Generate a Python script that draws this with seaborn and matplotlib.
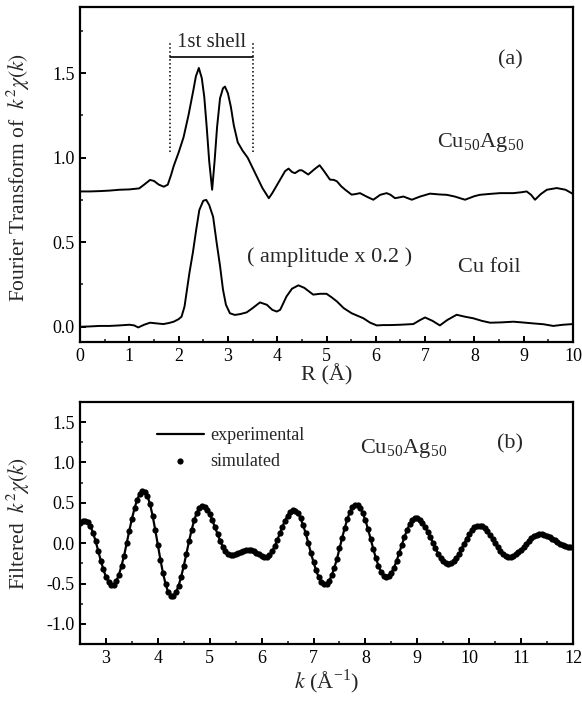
import numpy as np
import pandas as pd
import matplotlib
matplotlib.use("Agg")
import matplotlib.pyplot as plt
from matplotlib.ticker import MultipleLocator, FormatStrFormatter
import seaborn as sns

# ---------------- data: panel (a) ----------------
r_cuag = [0.0, 0.2, 0.4, 0.6, 0.8, 1.0, 1.1, 1.2, 1.3, 1.42, 1.5, 1.6, 1.7, 1.78, 1.85, 1.9,
          2.0, 2.1, 2.2, 2.3, 2.35, 2.41, 2.47, 2.52, 2.57, 2.62, 2.68, 2.73, 2.78, 2.84, 2.9,
          2.94, 3.0, 3.06, 3.12, 3.2, 3.3, 3.4, 3.5, 3.6, 3.7, 3.83, 3.9, 4.0, 4.1, 4.16, 4.23,
          4.3, 4.36, 4.45, 4.5, 4.63, 4.75, 4.86, 4.95, 5.07, 5.15, 5.21, 5.3, 5.38, 5.51, 5.6,
          5.68, 5.81, 5.95, 6.09, 6.22, 6.3, 6.39, 6.48, 6.56, 6.73, 6.9, 7.1, 7.3, 7.44, 7.6,
          7.81, 8.0, 8.11, 8.3, 8.52, 8.79, 8.95, 9.06, 9.15, 9.23, 9.35, 9.47, 9.67, 9.85, 10.0]
ft_cuag = [0.800, 0.800, 0.802, 0.805, 0.810, 0.812, 0.815, 0.818, 0.840, 0.868, 0.862, 0.840,
           0.828, 0.840, 0.900, 0.950, 1.03, 1.12, 1.25, 1.40, 1.48, 1.53, 1.47, 1.36, 1.18,
           0.98, 0.81, 0.98, 1.18, 1.35, 1.41, 1.42, 1.38, 1.30, 1.19, 1.09, 1.04, 1.00, 0.94,
           0.88, 0.82, 0.76, 0.79, 0.84, 0.89, 0.92, 0.935, 0.915, 0.908, 0.925, 0.925, 0.90,
           0.93, 0.955, 0.92, 0.87, 0.868, 0.86, 0.83, 0.81, 0.781, 0.785, 0.79, 0.77, 0.751,
           0.78, 0.79, 0.78, 0.76, 0.765, 0.77, 0.751, 0.77, 0.787, 0.782, 0.78, 0.77, 0.751,
           0.772, 0.78, 0.785, 0.79, 0.79, 0.795, 0.80, 0.78, 0.751, 0.785, 0.81, 0.82, 0.81,
           0.785]

r_cu = [0.0, 0.2, 0.4, 0.6, 0.8, 1.0, 1.1, 1.18, 1.3, 1.42, 1.55, 1.69, 1.8, 1.9, 2.0, 2.06,
        2.12, 2.16, 2.22, 2.29, 2.36, 2.42, 2.5, 2.56, 2.62, 2.7, 2.77, 2.84, 2.9, 2.96, 3.04,
        3.14, 3.25, 3.38, 3.5, 3.65, 3.79, 3.9, 3.99, 4.06, 4.19, 4.3, 4.43, 4.55, 4.73, 4.87,
        5.0, 5.1, 5.21, 5.35, 5.51, 5.63, 5.75, 5.88, 6.02, 6.15, 6.29, 6.5, 6.76, 6.9, 7.0,
        7.15, 7.3, 7.45, 7.64, 7.8, 7.98, 8.15, 8.32, 8.55, 8.79, 9.0, 9.19, 9.4, 9.6, 9.8, 10.0]
ft_cu = [0.000, 0.002, 0.005, 0.005, 0.008, 0.012, 0.008, -0.004, 0.012, 0.024, 0.020, 0.016,
         0.022, 0.030, 0.045, 0.06, 0.12, 0.20, 0.32, 0.44, 0.58, 0.69, 0.745, 0.75, 0.72,
         0.65, 0.50, 0.36, 0.22, 0.13, 0.08, 0.07, 0.075, 0.085, 0.11, 0.144, 0.13, 0.10, 0.09,
         0.10, 0.18, 0.225, 0.245, 0.23, 0.19, 0.195, 0.195, 0.175, 0.15, 0.11, 0.08, 0.065,
         0.05, 0.025, 0.008, 0.01, 0.01, 0.012, 0.016, 0.04, 0.055, 0.035, 0.008, 0.04, 0.071,
         0.06, 0.05, 0.035, 0.024, 0.026, 0.03, 0.025, 0.02, 0.015, 0.005, 0.012, 0.016]

# ---------------- data: panel (b) ----------------
k_vals = np.round(np.arange(2.5, 12.0001, 0.05), 2)
chi_filtered = [
    0.25, 0.27, 0.28, 0.262, 0.21, 0.13, 0.027, -0.096, -0.216, -0.326, -0.418, -0.484,
    -0.517, -0.513, -0.47, -0.39, -0.279, -0.153, 0.004, 0.156, 0.302, 0.431, 0.539, 0.611,
    0.647, 0.64, 0.583, 0.482, 0.336, 0.163, -0.023, -0.208, -0.373, -0.51, -0.609, -0.656,
    -0.653, -0.608, -0.527, -0.414, -0.28, -0.13, 0.021, 0.163, 0.283, 0.379, 0.44, 0.46,
    0.448, 0.412, 0.356, 0.284, 0.198, 0.112, 0.029, -0.043, -0.10, -0.138, -0.15, -0.146,
    -0.137, -0.123, -0.107, -0.093, -0.083, -0.08, -0.085, -0.099, -0.119, -0.14, -0.158,
    -0.168, -0.168, -0.146, -0.102, -0.039, 0.036, 0.12, 0.204, 0.279, 0.342, 0.386, 0.408,
    0.404, 0.37, 0.308, 0.22, 0.121, -0.002, -0.122, -0.237, -0.338, -0.423, -0.48, -0.507,
    -0.504, -0.467, -0.40, -0.306, -0.199, -0.066, 0.062, 0.186, 0.295, 0.386, 0.447, 0.477,
    0.474, 0.439, 0.373, 0.282, 0.175, 0.054, -0.067, -0.182, -0.278, -0.355, -0.404, -0.42,
    -0.406, -0.367, -0.304, -0.222, -0.125, -0.025, 0.073, 0.16, 0.232, 0.283, 0.308, 0.307,
    0.288, 0.252, 0.203, 0.144, 0.075, 0.004, -0.066, -0.13, -0.184, -0.225, -0.251, -0.26,
    -0.251, -0.226, -0.185, -0.133, -0.071, -0.007, 0.057, 0.114, 0.162, 0.198, 0.217, 0.219,
    0.207, 0.182, 0.147, 0.101, 0.051, -0.001, -0.051, -0.095, -0.131, -0.156, -0.169,
    -0.168, -0.158, -0.139, -0.112, -0.082, -0.045, -0.008, 0.027, 0.058, 0.083, 0.101,
    0.109, 0.109, 0.103, 0.091, 0.075, 0.056, 0.034, 0.013, -0.008, -0.025, -0.039, -0.047,
    -0.05, -0.05]
chi_simulated = list(chi_filtered)

shell_bounds = [1.83, 3.51]

# ---------------- style ----------------
sns.set_theme(style="ticks")
plt.rcParams["font.family"] = ["Liberation Serif", "DejaVu Serif"]
plt.rcParams["mathtext.fontset"] = "stix"
plt.rcParams["axes.unicode_minus"] = False
plt.rcParams["axes.linewidth"] = 1.6

fig = plt.figure(figsize=(5.82, 7.05), dpi=100)
ax1 = fig.add_axes([0.1375, 0.5149, 0.847, 0.4751])
ax2 = fig.add_axes([0.1375, 0.0865, 0.847, 0.3433])

df_a1 = pd.DataFrame({"R": r_cuag, "FT": ft_cuag})
df_a2 = pd.DataFrame({"R": r_cu, "FT": ft_cu})
sns.lineplot(data=df_a1, x="R", y="FT", ax=ax1, color="black", lw=1.4, sort=False, estimator=None)
sns.lineplot(data=df_a2, x="R", y="FT", ax=ax1, color="black", lw=1.4, sort=False, estimator=None)

ax1.set_xlim(0, 10)
ax1.set_ylim(-0.09, 1.89)

# 1st shell bracket
for xb in shell_bounds:
    ax1.plot([xb, xb], [1.035, 1.68], color="black", ls=(0, (1, 1.6)), lw=1.1)
ax1.plot(shell_bounds, [1.595, 1.595], color="black", lw=1.2)
ax1.text(np.mean(shell_bounds), 1.625, "1st shell", ha="center", va="bottom", fontsize=15)

ax1.text(8.72, 1.58, "(a)", ha="center", va="center", fontsize=16)
ax1.text(8.12, 1.09, r"Cu$_{\mathregular{50}}$Ag$_{\mathregular{50}}$", ha="center", va="center", fontsize=16)
ax1.text(5.07, 0.41, "( amplitude x 0.2 )", ha="center", va="center", fontsize=16)
ax1.text(8.3, 0.35, "Cu foil", ha="center", va="center", fontsize=16)

ax1.set_xlabel("R (Å)", fontsize=16, labelpad=0)
ax1.set_ylabel(r"Fourier Transform of  $k^2\chi(k)$", fontsize=15.5)
ax1.yaxis.set_label_coords(-0.098, 0.49)

ax1.xaxis.set_major_locator(MultipleLocator(1))
ax1.xaxis.set_minor_locator(MultipleLocator(0.5))
ax1.yaxis.set_major_locator(MultipleLocator(0.5))
ax1.yaxis.set_minor_locator(MultipleLocator(0.25))
ax1.yaxis.set_major_formatter(FormatStrFormatter("%.1f"))

# panel (b)
df_b = pd.DataFrame({"k": k_vals, "exp": chi_filtered, "sim": chi_simulated})
sns.lineplot(data=df_b, x="k", y="exp", ax=ax2, color="black", lw=1.6, sort=False,
             estimator=None, label="experimental")
sns.scatterplot(data=df_b, x="k", y="sim", ax=ax2, color="black", s=20, linewidth=0,
                label="simulated", zorder=3)
ax2.set_xlim(2.5, 12)
ax2.set_ylim(-1.25, 1.75)
ax2.xaxis.set_major_locator(MultipleLocator(1))
ax2.xaxis.set_minor_locator(MultipleLocator(0.5))
ax2.yaxis.set_major_locator(MultipleLocator(0.5))
ax2.yaxis.set_minor_locator(MultipleLocator(0.25))
ax2.yaxis.set_major_formatter(FormatStrFormatter("%.1f"))

ax2.text(10.78, 1.23, "(b)", ha="center", va="center", fontsize=16)
ax2.text(8.74, 1.17, r"Cu$_{\mathregular{50}}$Ag$_{\mathregular{50}}$", ha="center", va="center", fontsize=16)

ax2.set_xlabel(r"$k$ (Å$^{\mathregular{-1}}$)", fontsize=16, labelpad=1)
ax2.set_ylabel(r"Filtered  $k^2\chi(k)$", fontsize=15.5)
ax2.yaxis.set_label_coords(-0.098, 0.5)

leg = ax2.legend(loc="upper left", bbox_to_anchor=(0.156, 0.895), frameon=False,
                 handlelength=2.6, handletextpad=0.35, borderpad=0, borderaxespad=0,
                 labelspacing=0.45, fontsize=13)

for ax in (ax1, ax2):
    for sp in ax.spines.values():
        sp.set_visible(True)
        sp.set_linewidth(1.6)
        sp.set_color("black")
    ax.tick_params(axis="both", which="major", direction="in", length=4, width=1.4,
                   labelsize=13, colors="black", top=False, right=False, pad=4)
    ax.tick_params(axis="both", which="minor", direction="in", length=2.2, width=1.2,
                   top=False, right=False)
    ax.set_facecolor("white")

fig.patch.set_facecolor("white")
fig.savefig("out.png", dpi=100, facecolor="white")
